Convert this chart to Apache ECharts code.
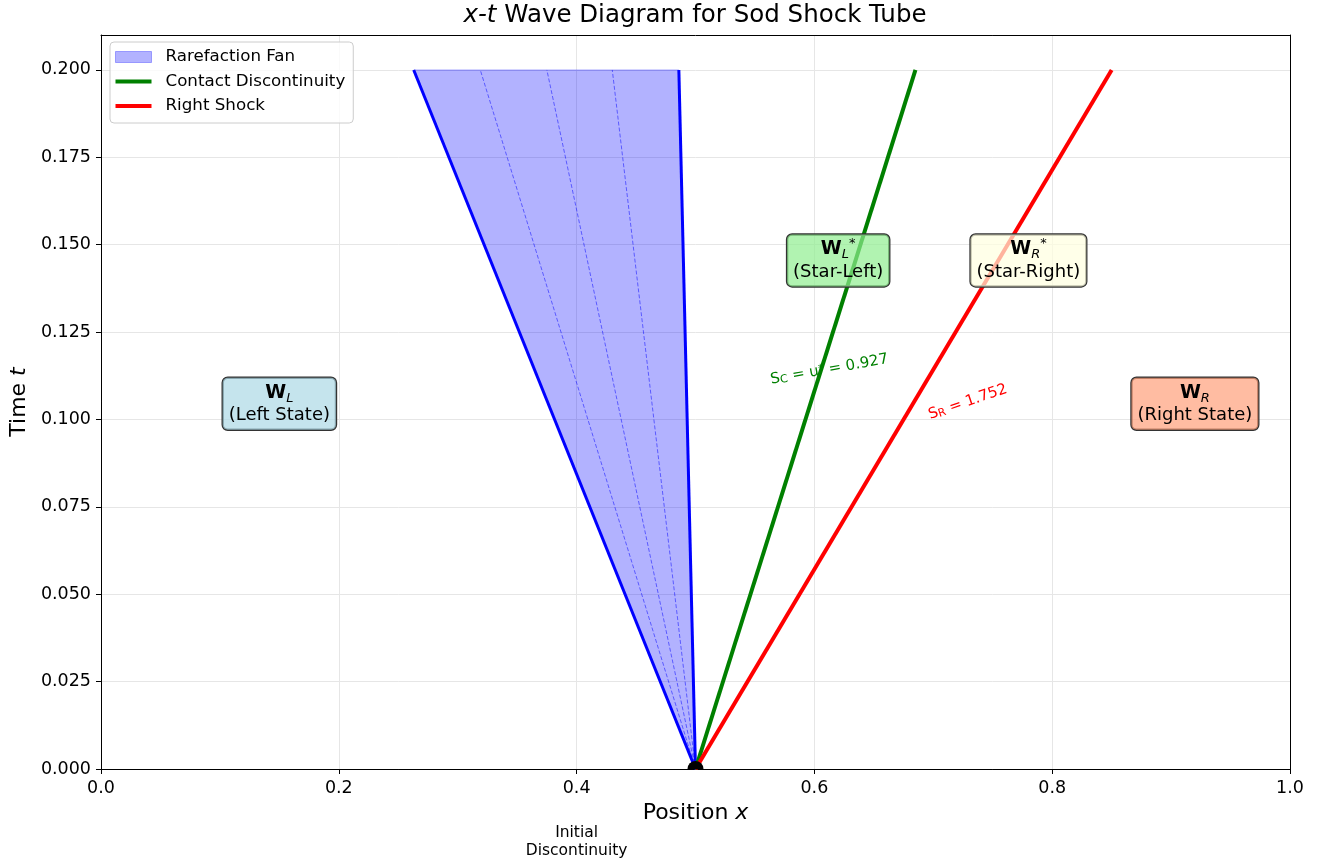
<!DOCTYPE html>
<html>
<head>
<meta charset="utf-8">
<title>x-t Wave Diagram for Sod Shock Tube</title>
<script src="https://cdn.jsdelivr.net/npm/echarts@6/dist/echarts.min.js"></script>
<style>
  html, body { margin: 0; padding: 0; background: #fff; }
  #container { width: 1327px; height: 864px; }
</style>
</head>
<body>
<div id="container"></div>
<script>
// wave end points: x at t = 0 and at t = 0.2
const waveT = [0, 0.2];
const headX = [0.5, 0.263];
const tailX = [0.5, 0.486];
const contactX = [0.5, 0.685];
const shockX = [0.5, 0.850];
// inner fan characteristics, x at t = 0.2
const fanRayX = [0.319, 0.375, 0.430];

const yTicks = [0, 0.025, 0.05, 0.075, 0.1, 0.125, 0.15, 0.175, 0.2];

// state labels
const stateText = [
    '{w|W}{s|L}\n(Left State)',
    '{w|W}{s|L}{p|*}\n(Star-Left)',
    '{w|W}{s|R}{p|*}\n(Star-Right)',
    '{w|W}{s|R}\n(Right State)'
];
const stateX = [0.15, 0.62, 0.78, 0.92];
const stateY = [0.1045, 0.1455, 0.1455, 0.1045];

// wave speed labels
const speedText = ['S{s|C} = u{p|*} = 0.927', 'S{s|R} = 1.752'];
const speedX = [0.6126, 0.729];
const speedY = [0.1143, 0.105];

const FONT = 'DejaVu Sans';
const boxFills = ['rgba(173,216,230,0.7)', 'rgba(144,238,144,0.7)', 'rgba(255,255,224,0.7)', 'rgba(255,160,122,0.7)'];
const speedColors = ['green', 'red'];
const speedAngles = [10, 19];

let dom = document.getElementById('container');
let myChart = echarts.init(dom);

const pts = xs => xs.map((x, i) => [x, waveT[i]]);
const fanPolygon = [[headX[0], waveT[0]], [headX[1], waveT[1]], [tailX[1], waveT[1]]];

const richBox = {
    w: { fontFamily: FONT, fontSize: 19, fontWeight: 'bold', lineHeight: 24 },
    s: { fontFamily: FONT, fontSize: 13, fontStyle: 'italic', lineHeight: 14, verticalAlign: 'bottom' },
    p: { fontFamily: FONT, fontSize: 13, lineHeight: 14, verticalAlign: 'top' }
};
const richSpeed = {
    s: { fontFamily: FONT, fontSize: 11, lineHeight: 10, verticalAlign: 'bottom' },
    p: { fontFamily: FONT, fontSize: 11, lineHeight: 10, verticalAlign: 'top' }
};

function rayLine(name, data, color, width, z, dashed) {
    return {
        name: name,
        type: 'line',
        data: data,
        symbol: 'none',
        color: color,
        z: z,
        silent: true,
        lineStyle: { color: color, width: width, type: dashed ? [4, 2] : 'solid' }
    };
}

const option = {
    animation: false,
    title: {
        text: '{i|x-t} Wave Diagram for Sod Shock Tube',
        left: 695,
        textAlign: 'center',
        top: 3,
        padding: 0,
        textStyle: {
            fontFamily: FONT, fontSize: 24.5, fontWeight: 'normal', color: '#000',
            rich: { i: { fontFamily: FONT, fontSize: 24.5, fontStyle: 'italic', color: '#000' } }
        }
    },
    legend: {
        left: 110,
        top: 42,
        orient: 'vertical',
        padding: [2.75, 8, 4.75, 5],
        itemGap: 0,
        itemWidth: 36,
        itemHeight: 11,
        selectedMode: false,
        backgroundColor: 'rgba(255,255,255,0.8)',
        borderColor: '#cccccc',
        borderWidth: 1,
        borderRadius: 4,
        z: 10,
        textStyle: { fontFamily: FONT, fontSize: 16.7, color: '#000', lineHeight: 24.5, padding: [0, 0, 0, 9] },
        data: [
            { name: 'Rarefaction Fan', icon: 'rect', itemStyle: { color: 'rgba(0,0,255,0.3)', borderColor: 'rgba(0,0,255,0.3)', borderWidth: 1 } },
            { name: 'Contact Discontinuity', icon: 'path://M0,0L36,0L36,4L0,4Z', itemStyle: { color: 'green', borderWidth: 0 } },
            { name: 'Right Shock', icon: 'path://M0,0L36,0L36,4L0,4Z', itemStyle: { color: 'red', borderWidth: 0 } }
        ]
    },
    grid: { left: 100, right: 37, top: 35, bottom: 95, containLabel: false },
    xAxis: [{
        type: 'value',
        min: 0, max: 1, interval: 0.2,
        name: 'Position {i|x}',
        nameLocation: 'middle',
        nameGap: 33,
        nameTextStyle: {
            fontFamily: FONT, fontSize: 22, color: '#000',
            rich: { i: { fontFamily: FONT, fontSize: 22, fontStyle: 'italic', color: '#000' } }
        },
        axisLine: { show: true, onZero: false, lineStyle: { color: '#000', width: 1 } },
        axisTick: { show: true, length: 5, lineStyle: { color: '#000', width: 1 } },
        axisLabel: { fontFamily: FONT, fontSize: 17.5, color: '#000', margin: 10, formatter: v => v.toFixed(1) },
        splitLine: { show: true, lineStyle: { color: '#e6e6e6', width: 1 } }
    }, {
        type: 'value', position: 'top', min: 0, max: 1, z: 5,
        axisLine: { show: true, onZero: false, lineStyle: { color: '#000', width: 1 } },
        axisTick: { show: false }, axisLabel: { show: false }, splitLine: { show: false }
    }],
    yAxis: [{
        type: 'value',
        min: 0, max: 0.21, interval: 0.025,
        name: 'Time {i|t}',
        nameLocation: 'middle',
        nameGap: 63,
        nameTextStyle: {
            fontFamily: FONT, fontSize: 22, color: '#000',
            rich: { i: { fontFamily: FONT, fontSize: 22, fontStyle: 'italic', color: '#000' } }
        },
        axisLine: { show: true, onZero: false, lineStyle: { color: '#000', width: 1 } },
        axisTick: { show: true, length: 5, customValues: yTicks, lineStyle: { color: '#000', width: 1 } },
        axisLabel: { fontFamily: FONT, fontSize: 17.5, color: '#000', margin: 10, customValues: yTicks, formatter: v => v.toFixed(3) },
        splitLine: { show: true, lineStyle: { color: '#e6e6e6', width: 1 } }
    }, {
        type: 'value', position: 'right', min: 0, max: 0.21, z: 5,
        axisLine: { show: true, onZero: false, lineStyle: { color: '#000', width: 1 } },
        axisTick: { show: false }, axisLabel: { show: false }, splitLine: { show: false }
    }],
    series: [
        {
            name: 'Rarefaction Fan',
            type: 'custom',
            z: 1,
            silent: true,
            itemStyle: { color: 'rgba(0,0,255,0.3)' },
            data: [[0.5, 0]],
            renderItem: function (params, api) {
                return {
                    type: 'polygon',
                    shape: { points: fanPolygon.map(p => api.coord(p)) },
                    style: { fill: 'rgba(0,0,255,0.3)', stroke: 'rgba(0,0,255,0.3)', lineWidth: 1 }
                };
            }
        },
        ...fanRayX.map((x, i) => rayLine('ray' + i, [[0.5, 0], [x, 0.2]], 'rgba(0,0,255,0.5)', 1, 2, true)),
        rayLine('Rarefaction Head', pts(headX), 'blue', 3, 3, false),
        rayLine('Rarefaction Tail', pts(tailX), 'blue', 3, 3, false),
        rayLine('Contact Discontinuity', pts(contactX), 'green', 4, 3, false),
        rayLine('Right Shock', pts(shockX), 'red', 4, 3, false),
        {
            name: 'speeds',
            type: 'custom',
            z: 2,
            silent: true,
            data: speedX.map((x, i) => [x, speedY[i]]),
            renderItem: function (params, api) {
                const i = params.dataIndex;
                const p = api.coord([api.value(0), api.value(1)]);
                return {
                    type: 'text',
                    x: p[0], y: p[1],
                    rotation: speedAngles[i] * Math.PI / 180,
                    style: {
                        text: speedText[i],
                        fill: speedColors[i],
                        fontFamily: FONT, fontSize: 15,
                        align: 'center', verticalAlign: 'middle',
                        rich: Object.fromEntries(Object.entries(richSpeed).map(([k, v]) => [k, Object.assign({ fill: speedColors[i] }, v)]))
                    }
                };
            }
        },
        {
            name: 'states',
            type: 'custom',
            z: 4,
            silent: true,
            data: stateX.map((x, i) => [x, stateY[i]]),
            renderItem: function (params, api) {
                const i = params.dataIndex;
                const p = api.coord([api.value(0), api.value(1)]);
                return {
                    type: 'text',
                    x: p[0], y: p[1],
                    style: {
                        text: stateText[i],
                        fill: '#000',
                        fontFamily: FONT, fontSize: 18, lineHeight: 22,
                        align: 'center', verticalAlign: 'middle',
                        backgroundColor: boxFills[i],
                        borderColor: '#333', borderWidth: 1.2, borderRadius: 5,
                        padding: [3, 6, 3, 6],
                        rich: richBox
                    }
                };
            }
        },
        {
            name: 'note',
            type: 'custom',
            z: 4,
            silent: true,
            data: [[0.4, -0.021]],
            renderItem: function (params, api) {
                const p = api.coord([api.value(0), api.value(1)]);
                return {
                    type: 'text',
                    x: p[0], y: p[1],
                    style: {
                        text: 'Initial\nDiscontinuity',
                        fill: '#000', fontFamily: FONT, fontSize: 15.5, lineHeight: 18,
                        align: 'center', verticalAlign: 'middle'
                    }
                };
            }
        },
        {
            // origin marker, clipped at the axis so only the upper half shows
            name: 'origin',
            type: 'custom',
            z: 6,
            silent: true,
            data: [[0.5, 0]],
            renderItem: function (params, api) {
                const p = api.coord([api.value(0), api.value(1)]);
                return {
                    type: 'sector',
                    shape: { cx: p[0], cy: p[1], r0: 0, r: 8, startAngle: Math.PI, endAngle: 2 * Math.PI },
                    style: { fill: '#000' }
                };
            }
        }
    ]
};

myChart.setOption(option);
</script>
</body>
</html>
